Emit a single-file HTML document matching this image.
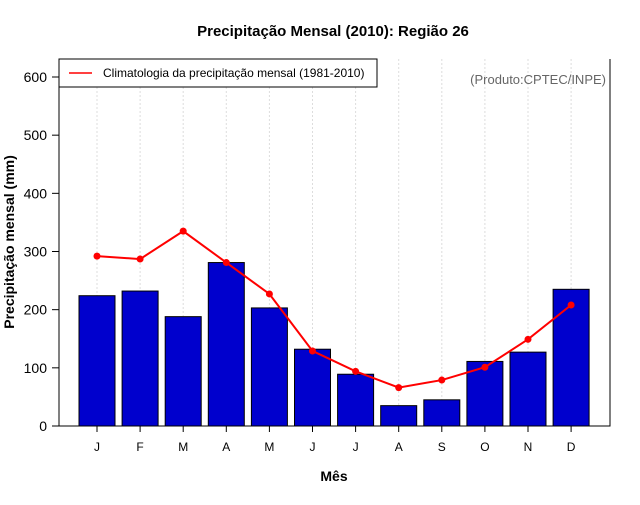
<!DOCTYPE html>
<html><head><meta charset="utf-8"><style>body{margin:0;background:#fff}svg text{font-family:"Liberation Sans",sans-serif}</style></head>
<body>
<svg width="640" height="500" viewBox="0 0 640 500" id="c"></svg>
<script>
const months=["J","F","M","A","M","J","J","A","S","O","N","D"];
const observed=[224,232,188,281,203,132,89,35,45,111,127,235];
const climatology=[292,287,335,281,227,129,94,66,79,101,149,208];
const yTicks=[0,100,200,300,400,500,600];
const ns="http://www.w3.org/2000/svg",svg=document.getElementById('c');
const L=59,R=610,T=59,B=426;
const y=v=>B-v*(349/600);
const x=i=>97+i*43.1;
function mk(t,a,p){const e=document.createElementNS(ns,t);for(const k in a)e.setAttribute(k,a[k]);(p||svg).appendChild(e);return e;}
let t=mk('text',{x:333,y:36,'text-anchor':'middle','font-size':15,'font-weight':'bold'});t.textContent="Precipitação Mensal (2010): Região 26";

months.forEach((m,i)=>{const g=mk('line',{x1:x(i),x2:x(i),y1:T,y2:B,stroke:'#ddd','stroke-dasharray':'2,2'});
});
observed.forEach((v,i)=>{const r=mk('rect',{x:x(i)-18,y:y(v),width:36,height:B-y(v),fill:'#0000cd',stroke:'#000','stroke-width':1});
});
const ax=mk('path',{d:`M${L},${T}V${B}H${R}V${T}`,fill:'none',stroke:'#000','stroke-width':1});

yTicks.forEach(v=>{mk('line',{x1:L-7,x2:L,y1:y(v),y2:y(v),stroke:'#000'});
const l=mk('text',{x:L-12,y:y(v)+5,'text-anchor':'end','font-size':14});l.textContent=v;
});
months.forEach((m,i)=>{mk('line',{x1:x(i),x2:x(i),y1:B,y2:B+6,stroke:'#000'});
const l=mk('text',{x:x(i),y:451,'text-anchor':'middle','font-size':12});l.textContent=m;
});
const pl=mk('polyline',{points:climatology.map((v,i)=>x(i)+','+y(v)).join(' '),fill:'none',stroke:'#f00','stroke-width':2});

climatology.forEach((v,i)=>{const c=mk('circle',{cx:x(i),cy:y(v),r:3.5,fill:'#f00'});
});
t=mk('text',{x:334,y:481,'text-anchor':'middle','font-size':14,'font-weight':'bold'});t.textContent="Mês";

t=mk('text',{x:0,y:0,'text-anchor':'middle','font-size':14,'font-weight':'bold',transform:`translate(14,242) rotate(-90)`});t.textContent="Precipitação mensal (mm)";

const lg=mk('g',{});
mk('rect',{x:59,y:59,width:318,height:28,fill:'#fff',stroke:'#000'},lg);
mk('line',{x1:69,x2:92,y1:73,y2:73,stroke:'#f00','stroke-width':1.5},lg);
t=mk('text',{x:103,y:77,'font-size':12},lg);t.textContent="Climatologia da precipitação mensal (1981-2010)";
t=mk('text',{x:606,y:84,'text-anchor':'end','font-size':13,fill:'#666'});t.textContent="(Produto:CPTEC/INPE)";

</script>
</body></html>
